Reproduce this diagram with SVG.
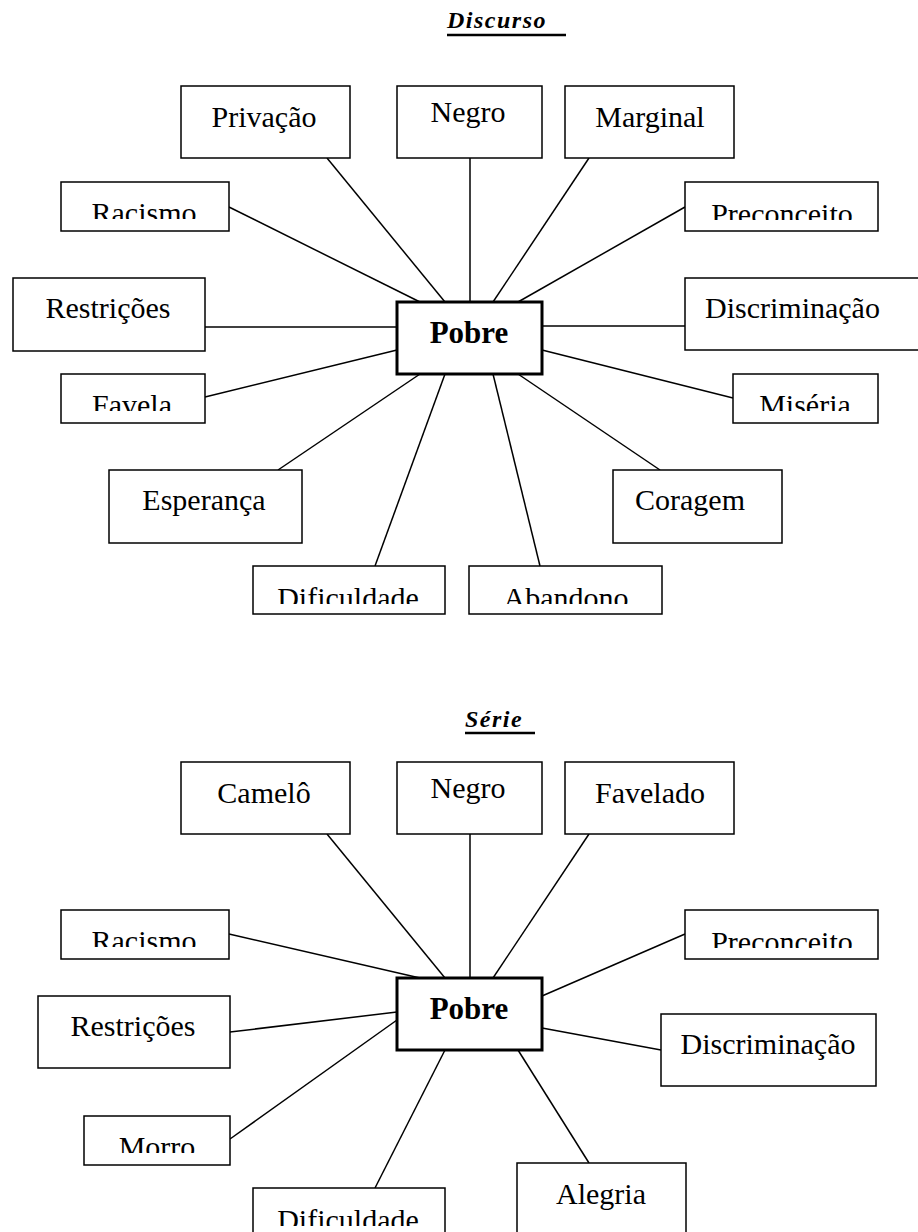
<svg xmlns="http://www.w3.org/2000/svg" width="918" height="1232" viewBox="0 0 918 1232">
  <style>
    .box { fill: #fff; stroke: #000; stroke-width: 1.5; }
    .hub { fill: #fff; stroke: #000; stroke-width: 3; }
    .lbl { font-family: "Liberation Serif", "Times New Roman", serif; font-size: 30px; fill: #000; text-anchor: middle; }
    .lbl-start { text-anchor: start; }
    .hubl { font-family: "Liberation Serif", "Times New Roman", serif; font-size: 31px; font-weight: bold; fill: #000; text-anchor: middle; }
    .title { font-family: "Liberation Serif", "Times New Roman", serif; font-size: 24px; font-style: italic; font-weight: bold; letter-spacing: 1.5px; fill: #000; }
    .ul { stroke: #000; stroke-width: 2.5; }
    .conn line { stroke: #000; stroke-width: 1.5; }
  </style>
  <defs>
    <!-- short boxes: label is cut off near the baseline -->
    <clipPath id="c-rac1"><rect x="61" y="182" width="168" height="37"/></clipPath>
    <clipPath id="c-pre1"><rect x="685" y="182" width="193" height="38"/></clipPath>
    <clipPath id="c-fav1"><rect x="61" y="374" width="144" height="37"/></clipPath>
    <clipPath id="c-mis1"><rect x="733" y="374" width="145" height="37"/></clipPath>
    <clipPath id="c-dif1"><rect x="253" y="566" width="192" height="38"/></clipPath>
    <clipPath id="c-aba1"><rect x="469" y="566" width="193" height="38"/></clipPath>
    <clipPath id="c-rac2"><rect x="61" y="910" width="168" height="37"/></clipPath>
    <clipPath id="c-pre2"><rect x="685" y="910" width="193" height="38"/></clipPath>
    <clipPath id="c-mor2"><rect x="84" y="1116" width="146" height="37"/></clipPath>
    <clipPath id="c-dif2"><rect x="253" y="1188" width="192" height="38"/></clipPath>
  </defs>

  <!-- ===== Discurso ===== -->
  <g id="title-discurso">
    <text class="title" x="447" y="28">Discurso</text>
    <line class="ul" x1="447" y1="35" x2="566" y2="35"/>
  </g>

  <g id="connectors-discurso" class="conn">
    <line x1="327" y1="158" x2="445" y2="302"/>
    <line x1="470" y1="158" x2="470" y2="302"/>
    <line x1="589" y1="158" x2="493" y2="302"/>
    <line x1="229" y1="207" x2="420" y2="302"/>
    <line x1="685" y1="207" x2="518" y2="302"/>
    <line x1="205" y1="327" x2="397" y2="327"/>
    <line x1="542" y1="326" x2="685" y2="326"/>
    <line x1="205" y1="397" x2="397" y2="350"/>
    <line x1="542" y1="350" x2="733" y2="398"/>
    <line x1="278" y1="470" x2="420" y2="374"/>
    <line x1="660" y1="470" x2="518" y2="374"/>
    <line x1="375" y1="566" x2="445" y2="374"/>
    <line x1="540" y1="566" x2="493" y2="374"/>
  </g>

  <g id="d-privacao"><rect class="box" x="181" y="86" width="169" height="72"/><text class="lbl" x="264" y="127">Privação</text></g>
  <g id="d-negro"><rect class="box" x="397" y="86" width="145" height="72"/><text class="lbl" x="468" y="122">Negro</text></g>
  <g id="d-marginal"><rect class="box" x="565" y="86" width="169" height="72"/><text class="lbl" x="650" y="127">Marginal</text></g>
  <g id="d-racismo"><rect class="box" x="61" y="182" width="168" height="49"/><g clip-path="url(#c-rac1)"><text class="lbl" x="144" y="223">Racismo</text></g></g>
  <g id="d-preconceito"><rect class="box" x="685" y="182" width="193" height="49"/><g clip-path="url(#c-pre1)"><text class="lbl" x="782" y="224">Preconceito</text></g></g>
  <g id="d-restricoes"><rect class="box" x="13" y="278" width="192" height="73"/><text class="lbl" x="108" y="318">Restrições</text></g>
  <g id="d-discriminacao"><rect class="box" x="685" y="278" width="240" height="72"/><text class="lbl lbl-start" x="705" y="318">Discriminação</text></g>
  <g id="d-favela"><rect class="box" x="61" y="374" width="144" height="49"/><g clip-path="url(#c-fav1)"><text class="lbl" x="132" y="415">Favela</text></g></g>
  <g id="d-miseria"><rect class="box" x="733" y="374" width="145" height="49"/><g clip-path="url(#c-mis1)"><text class="lbl" x="805" y="415">Miséria</text></g></g>
  <g id="d-esperanca"><rect class="box" x="109" y="470" width="193" height="73"/><text class="lbl" x="204" y="510">Esperança</text></g>
  <g id="d-coragem"><rect class="box" x="613" y="470" width="169" height="73"/><text class="lbl" x="690" y="510">Coragem</text></g>
  <g id="d-dificuldade"><rect class="box" x="253" y="566" width="192" height="48"/><g clip-path="url(#c-dif1)"><text class="lbl" x="348" y="608">Dificuldade</text></g></g>
  <g id="d-abandono"><rect class="box" x="469" y="566" width="193" height="48"/><g clip-path="url(#c-aba1)"><text class="lbl" x="566" y="608">Abandono</text></g></g>
  <g id="d-pobre"><rect class="hub" x="397" y="302" width="145" height="72"/><text class="hubl" x="469" y="343">Pobre</text></g>

  <!-- ===== Série ===== -->
  <g id="title-serie">
    <text class="title" x="465" y="727">Série</text>
    <line class="ul" x1="465" y1="733" x2="535" y2="733"/>
  </g>

  <g id="connectors-serie" class="conn">
    <line x1="327" y1="834" x2="445" y2="978"/>
    <line x1="470" y1="834" x2="470" y2="978"/>
    <line x1="589" y1="834" x2="493" y2="978"/>
    <line x1="229" y1="934" x2="420" y2="978"/>
    <line x1="685" y1="934" x2="542" y2="996"/>
    <line x1="230" y1="1032" x2="397" y2="1012"/>
    <line x1="661" y1="1050" x2="542" y2="1028"/>
    <line x1="230" y1="1139" x2="397" y2="1020"/>
    <line x1="375" y1="1188" x2="445" y2="1050"/>
    <line x1="589" y1="1163" x2="518" y2="1050"/>
  </g>

  <g id="s-camelo"><rect class="box" x="181" y="762" width="169" height="72"/><text class="lbl" x="264" y="803">Camelô</text></g>
  <g id="s-negro"><rect class="box" x="397" y="762" width="145" height="72"/><text class="lbl" x="468" y="798">Negro</text></g>
  <g id="s-favelado"><rect class="box" x="565" y="762" width="169" height="72"/><text class="lbl" x="650" y="803">Favelado</text></g>
  <g id="s-racismo"><rect class="box" x="61" y="910" width="168" height="49"/><g clip-path="url(#c-rac2)"><text class="lbl" x="144" y="951">Racismo</text></g></g>
  <g id="s-preconceito"><rect class="box" x="685" y="910" width="193" height="49"/><g clip-path="url(#c-pre2)"><text class="lbl" x="782" y="952">Preconceito</text></g></g>
  <g id="s-restricoes"><rect class="box" x="38" y="996" width="192" height="72"/><text class="lbl" x="133" y="1036">Restrições</text></g>
  <g id="s-discriminacao"><rect class="box" x="661" y="1014" width="215" height="72"/><text class="lbl" x="768" y="1054">Discriminação</text></g>
  <g id="s-morro"><rect class="box" x="84" y="1116" width="146" height="49"/><g clip-path="url(#c-mor2)"><text class="lbl" x="157" y="1157">Morro</text></g></g>
  <g id="s-dificuldade"><rect class="box" x="253" y="1188" width="192" height="48"/><g clip-path="url(#c-dif2)"><text class="lbl" x="348" y="1230">Dificuldade</text></g></g>
  <g id="s-alegria"><rect class="box" x="517" y="1163" width="169" height="72"/><text class="lbl" x="601" y="1204">Alegria</text></g>
  <g id="s-pobre"><rect class="hub" x="397" y="978" width="145" height="72"/><text class="hubl" x="469" y="1019">Pobre</text></g>
</svg>
